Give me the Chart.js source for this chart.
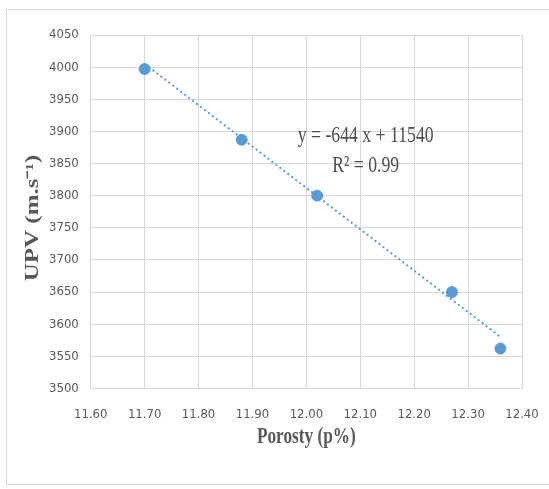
<!DOCTYPE html>
<html>
<head>
<meta charset="utf-8">
<script src="https://cdn.jsdelivr.net/npm/chart.js@4/dist/chart.umd.min.js"></script>
<style>
	html, body { margin: 0; padding: 0; background: #fff; }
	.frame { position: absolute; left: 6px; top: 9px; width: 560px; height: 474px; border: 1px solid #d9d9d9; }
	.wrap { position: absolute; left: 0; top: 0; width: 549px; height: 489px; }
</style>
</head>
<body>
<div class="frame"></div>
<div class="wrap"><canvas id="chart" width="549" height="489"></canvas></div>
<script>
const porosity = [11.70, 11.88, 12.02, 12.27, 12.36];
const upv = [3997, 3887, 3800, 3650, 3562];
const slope = -644;
const intercept = 11540;
const rSquared = 0.99;
const xTitle = 'Porosty (p%)';
const yTitle = 'UPV (m.s⁻¹)';

const points = porosity.map((p, i) => ({ x: p, y: upv[i] }));
const xMin = Math.min(...porosity);
const xMax = Math.max(...porosity);
const trend = [xMin, xMax].map(x => ({ x: x, y: slope * x + intercept }));

const serif = '"Liberation Serif", "Times New Roman", serif';

// condensed text, the reference looks squeezed horizontally
function squeezedText(ctx, text, x, y, sx, sy) {
	ctx.save();
	ctx.translate(x, y);
	ctx.scale(sx, sy);
	ctx.fillText(text, 0, 0);
	ctx.restore();
}

const textLayer = {
	id: 'textLayer',
	afterDraw(chart) {
		const { ctx, scales, chartArea } = chart;
		ctx.save();
		ctx.textAlign = 'center';
		ctx.textBaseline = 'alphabetic';

		// trendline equation
		ctx.fillStyle = '#4d4d4d';
		ctx.font = `23px ${serif}`;
		const cx = scales.x.getPixelForValue(12.11);
		squeezedText(ctx, `y = ${slope} x + ${intercept}`, cx, scales.y.getPixelForValue(3883), 0.77, 1);
		squeezedText(ctx, `R² = ${rSquared}`, cx, scales.y.getPixelForValue(3837), 0.77, 1);

		// axis titles
		ctx.fillStyle = '#595959';
		ctx.font = `bold 23px ${serif}`;
		squeezedText(ctx, xTitle, (chartArea.left + chartArea.right) / 2, 443, 0.75, 1);

		ctx.font = `bold 25px ${serif}`;
		ctx.translate(38, 218);
		ctx.rotate(-Math.PI / 2);
		squeezedText(ctx, yTitle, 0, 0, 1, 0.72);
		ctx.restore();
	},
};

const tickFont = { family: '"DejaVu Sans Condensed", "Liberation Sans Narrow", sans-serif', size: 13 };

new Chart(document.getElementById('chart'), {
	type: 'scatter',
	data: {
		datasets: [
			{
				data: points,
				backgroundColor: '#5b9bd5',
				borderColor: '#5b9bd5',
				pointRadius: 5.5,
				pointHoverRadius: 5.5,
				order: 1,
			},
			{
				type: 'line',
				data: trend,
				borderColor: '#5b9bd5',
				borderWidth: 2,
				borderDash: [2, 3],
				pointRadius: 0,
				fill: false,
				order: 2,
			},
		],
	},
	options: {
		responsive: false,
		animation: false,
		layout: { padding: { left: 37, right: 0, top: 35, bottom: 49 } },
		plugins: { legend: { display: false }, tooltip: { enabled: false } },
		scales: {
			x: {
				type: 'linear',
				min: 11.6,
				max: 12.4,
				afterFit: scale => { scale.paddingRight = 27; },
				ticks: { stepSize: 0.1, color: '#595959', font: tickFont, padding: 18, callback: v => v.toFixed(2) },
				grid: { color: '#d9d9d9', drawTicks: false },
				border: { color: '#d9d9d9' },
			},
			y: {
				min: 3500,
				max: 4050,
				ticks: { stepSize: 50, color: '#595959', font: tickFont, padding: 12, callback: v => String(v) },
				grid: { color: '#d9d9d9', drawTicks: false },
				border: { color: '#d9d9d9' },
			},
		},
	},
	plugins: [textLayer],
});
</script>
</body>
</html>
